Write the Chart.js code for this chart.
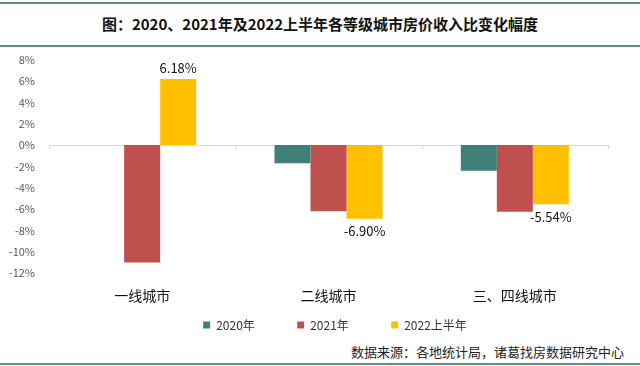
<!DOCTYPE html>
<html>
<head>
<meta charset="utf-8">
<script src="https://cdn.jsdelivr.net/npm/chart.js@4"></script>
<style>
    body { margin: 0; background: #fff; font-family: "Noto Sans CJK SC", sans-serif; }
    #wrap { position: relative; width: 640px; height: 366px; overflow: hidden; }
    .rule { position: absolute; left: 0; width: 640px; height: 2px; background: #5f8f8b; }
    #title { position: absolute; top: 13px; left: 0; width: 640px; text-align: center; font-size: 15px; font-weight: bold; color: #111; line-height: 22px; }
    #box { position: absolute; top: 47px; left: 0; width: 640px; height: 294px; }
    #source { position: absolute; top: 343px; right: 16px; font-size: 13px; color: #222; line-height: 18px; }
</style>
</head>
<body>
<div id="wrap">
    <div class="rule" style="top:2px"></div>
    <div id="title">图：2020、2021年及2022上半年各等级城市房价收入比变化幅度</div>
    <div class="rule" style="top:45px"></div>
    <div id="box"><canvas id="chart"></canvas></div>
    <div id="source">数据来源：各地统计局，诸葛找房数据研究中心</div>
    <div class="rule" style="top:363px"></div>
</div>
<script>
const categories = ['一线城市', '二线城市', '三、四线城市'];
const seriesNames = ['2020年', '2021年', '2022上半年'];
const values2020 = [0, -1.7, -2.4];
const values2021 = [-11.0, -6.2, -6.25];
const valuesH1_2022 = [6.18, -6.90, -5.54];
const seriesColors = ['#3e7f79', '#c0504d', '#ffc000'];

// labels only on the 2022 series
const yellowLabels = {
    id: 'yellowLabels',
    afterDatasetsDraw(chart) {
        const ctx = chart.ctx;
        const meta = chart.getDatasetMeta(2);
        ctx.save();
        ctx.font = '13px "Noto Sans CJK SC", sans-serif';
        ctx.fillStyle = '#111';
        ctx.textAlign = 'center';
        meta.data.forEach((bar, i) => {
            const v = valuesH1_2022[i];
            const txt = v.toFixed(2) + '%';
            if (v >= 0) {
                ctx.textBaseline = 'bottom';
                ctx.fillText(txt, bar.x, bar.y - 4);
            } else {
                ctx.textBaseline = 'top';
                ctx.fillText(txt, bar.x, bar.y + 6);
            }
        });
        ctx.restore();
    }
};

// zero line with small ticks between categories
const zeroLine = {
    id: 'zeroLine',
    beforeDatasetsDraw(chart) {
        const ctx = chart.ctx;
        const x = chart.scales.x;
        const y0 = chart.scales.y.getPixelForValue(0);
        const step = (x.right - x.left) / categories.length;
        ctx.save();
        ctx.strokeStyle = '#d9d9d9';
        ctx.lineWidth = 1;
        ctx.beginPath();
        ctx.moveTo(x.left, y0 + 0.5);
        ctx.lineTo(x.right, y0 + 0.5);
        for (let i = 0; i <= categories.length; i++) {
            const px = Math.round(x.left + step * i) + 0.5;
            ctx.moveTo(px, y0);
            ctx.lineTo(px, y0 + 4);
        }
        ctx.stroke();
        ctx.restore();
    }
};

// legend sits a bit right of centre in the original
const legendNudge = {
    id: 'legendNudge',
    afterLayout(chart) {
        chart.legend.left += 29;
        chart.legend.right += 29;
    }
};

new Chart(document.getElementById('chart'), {
    type: 'bar',
    data: {
        labels: categories,
        datasets: [
            { label: seriesNames[0], data: values2020, backgroundColor: seriesColors[0] },
            { label: seriesNames[1], data: values2021, backgroundColor: seriesColors[1] },
            { label: seriesNames[2], data: valuesH1_2022, backgroundColor: seriesColors[2] }
        ]
    },
    options: {
        responsive: true,
        maintainAspectRatio: false,
        animation: false,
        datasets: { bar: { categoryPercentage: 0.58, barPercentage: 1 } },
        layout: { padding: { top: 6, right: 32, left: 4, bottom: 0 } },
        scales: {
            x: {
                grid: { display: false, drawTicks: false },
                border: { display: false },
                ticks: {
                    color: '#111',
                    font: { size: 14, family: '"Noto Sans CJK SC", sans-serif' },
                    padding: 14
                }
            },
            y: {
                min: -12,
                max: 8,
                grid: { display: false },
                border: { display: false },
                afterFit(scale) { scale.width = 45; },
                ticks: {
                    stepSize: 2,
                    color: '#595959',
                    padding: 6,
                    font: { size: 11, family: '"Noto Sans CJK SC", sans-serif' },
                    callback: v => v + '%'
                }
            }
        },
        plugins: {
            legend: {
                position: 'bottom',
                labels: {
                    boxWidth: 7,
                    boxHeight: 7,
                    padding: 1,
                    color: '#333',
                    font: { size: 12, family: '"Noto Sans CJK SC", sans-serif' },
                    generateLabels(chart) {
                        const items = Chart.defaults.plugins.legend.labels.generateLabels(chart);
                        items.forEach((it, i) => {
                            if (i < items.length - 1) it.text = it.text + '\u3000\u3000\u3000  ';
                        });
                        return items;
                    }
                }
            },
            tooltip: { enabled: false }
        }
    },
    plugins: [zeroLine, yellowLabels, legendNudge]
});
</script>
</body>
</html>
